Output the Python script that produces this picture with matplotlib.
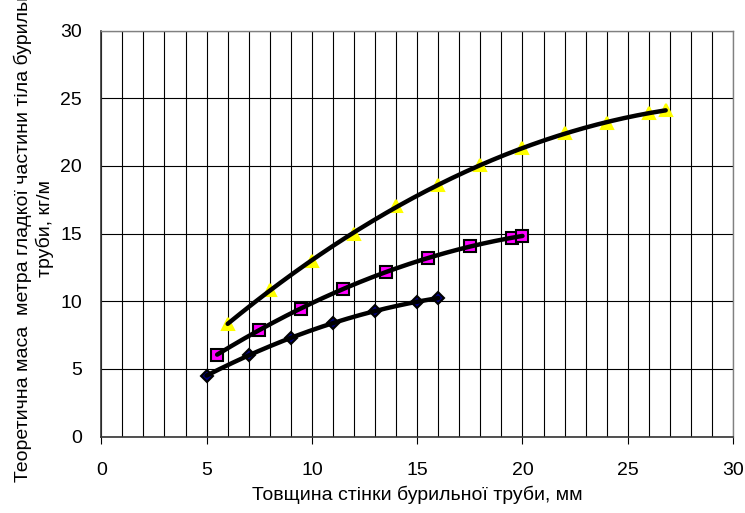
import numpy as np
import matplotlib
matplotlib.use('Agg')
import matplotlib.pyplot as plt

plt.rcParams['font.family'] = ['Liberation Sans', 'DejaVu Sans']

# diamonds
x1 = [5, 7, 9, 11, 13, 15, 16]
y1 = [4.5, 6.0, 7.3, 8.4, 9.25, 9.95, 10.25]
# squares
x2 = [5.5, 7.5, 9.5, 11.5, 13.5, 15.5, 17.5, 19.5, 20]
y2 = [6.05, 7.9, 9.45, 10.9, 12.15, 13.2, 14.05, 14.7, 14.8]
# triangles
x3 = [6, 8, 10, 12, 14, 16, 18, 20, 22, 24, 26, 26.8]
y3 = [8.35, 10.8, 13.0, 15.0, 17.0, 18.6, 20.1, 21.3, 22.4, 23.2, 23.9, 24.1]

xlabel = 'Товщина стінки бурильної труби, мм'
ylabel = 'Теоретична маса  метра гладкої частини тіла бурильної\nтруби, кг/м'

fig = plt.figure(figsize=(7.45, 5.13), dpi=100)
ax = fig.add_axes([0.136, 0.149, 0.848, 0.7915])

ax.set_xlim(0, 30)
ax.set_ylim(0, 30)
ax.set_xticks(np.arange(0, 31, 5))
ax.set_yticks(np.arange(0, 31, 5))
ax.set_xticks(np.arange(0, 31, 1), minor=True)
ax.grid(True, which='major', axis='y', color='black', lw=0.8)
ax.grid(True, which='both', axis='x', color='black', lw=0.8)
ax.tick_params(which='minor', length=0)
ax.tick_params(axis='x', which='major', direction='out', length=5, width=0.8,
               labelsize=14, pad=13)
ax.tick_params(axis='y', which='major', length=0, labelsize=14, pad=14)
ax.set_axisbelow(True)
for s in ['left', 'bottom']:
    ax.spines[s].set_linewidth(1.2)
    ax.spines[s].set_color('#333333')
for s in ['top', 'right']:
    ax.spines[s].set_linewidth(1.0)
    ax.spines[s].set_color('#808080')

def curve(x, y, marker, fc, ec, ms):
    ax.plot(x, y, linestyle='none', marker=marker, markerfacecolor=fc,
            markeredgecolor=ec, markersize=ms, markeredgewidth=1.5, zorder=3)
    c = np.polyfit(x, y, 2)
    xs = np.linspace(min(x), max(x), 200)
    ax.plot(xs, np.polyval(c, xs), color='black', lw=3.2,
            solid_capstyle='round', zorder=4)

curve(x3, y3, '^', '#ffff00', '#ffff00', 9)
curve(x2, y2, 's', '#ff00ff', 'black', 9)
curve(x1, y1, 'D', '#000080', 'black', 6.5)

ax.set_xlabel(xlabel, fontsize=14, labelpad=5)
fig.text(0.046, 0.555, ylabel, rotation=90, ha='center', va='center',
         multialignment='center', fontsize=14, linespacing=1.25)

fig.savefig('out.png', dpi=100)
